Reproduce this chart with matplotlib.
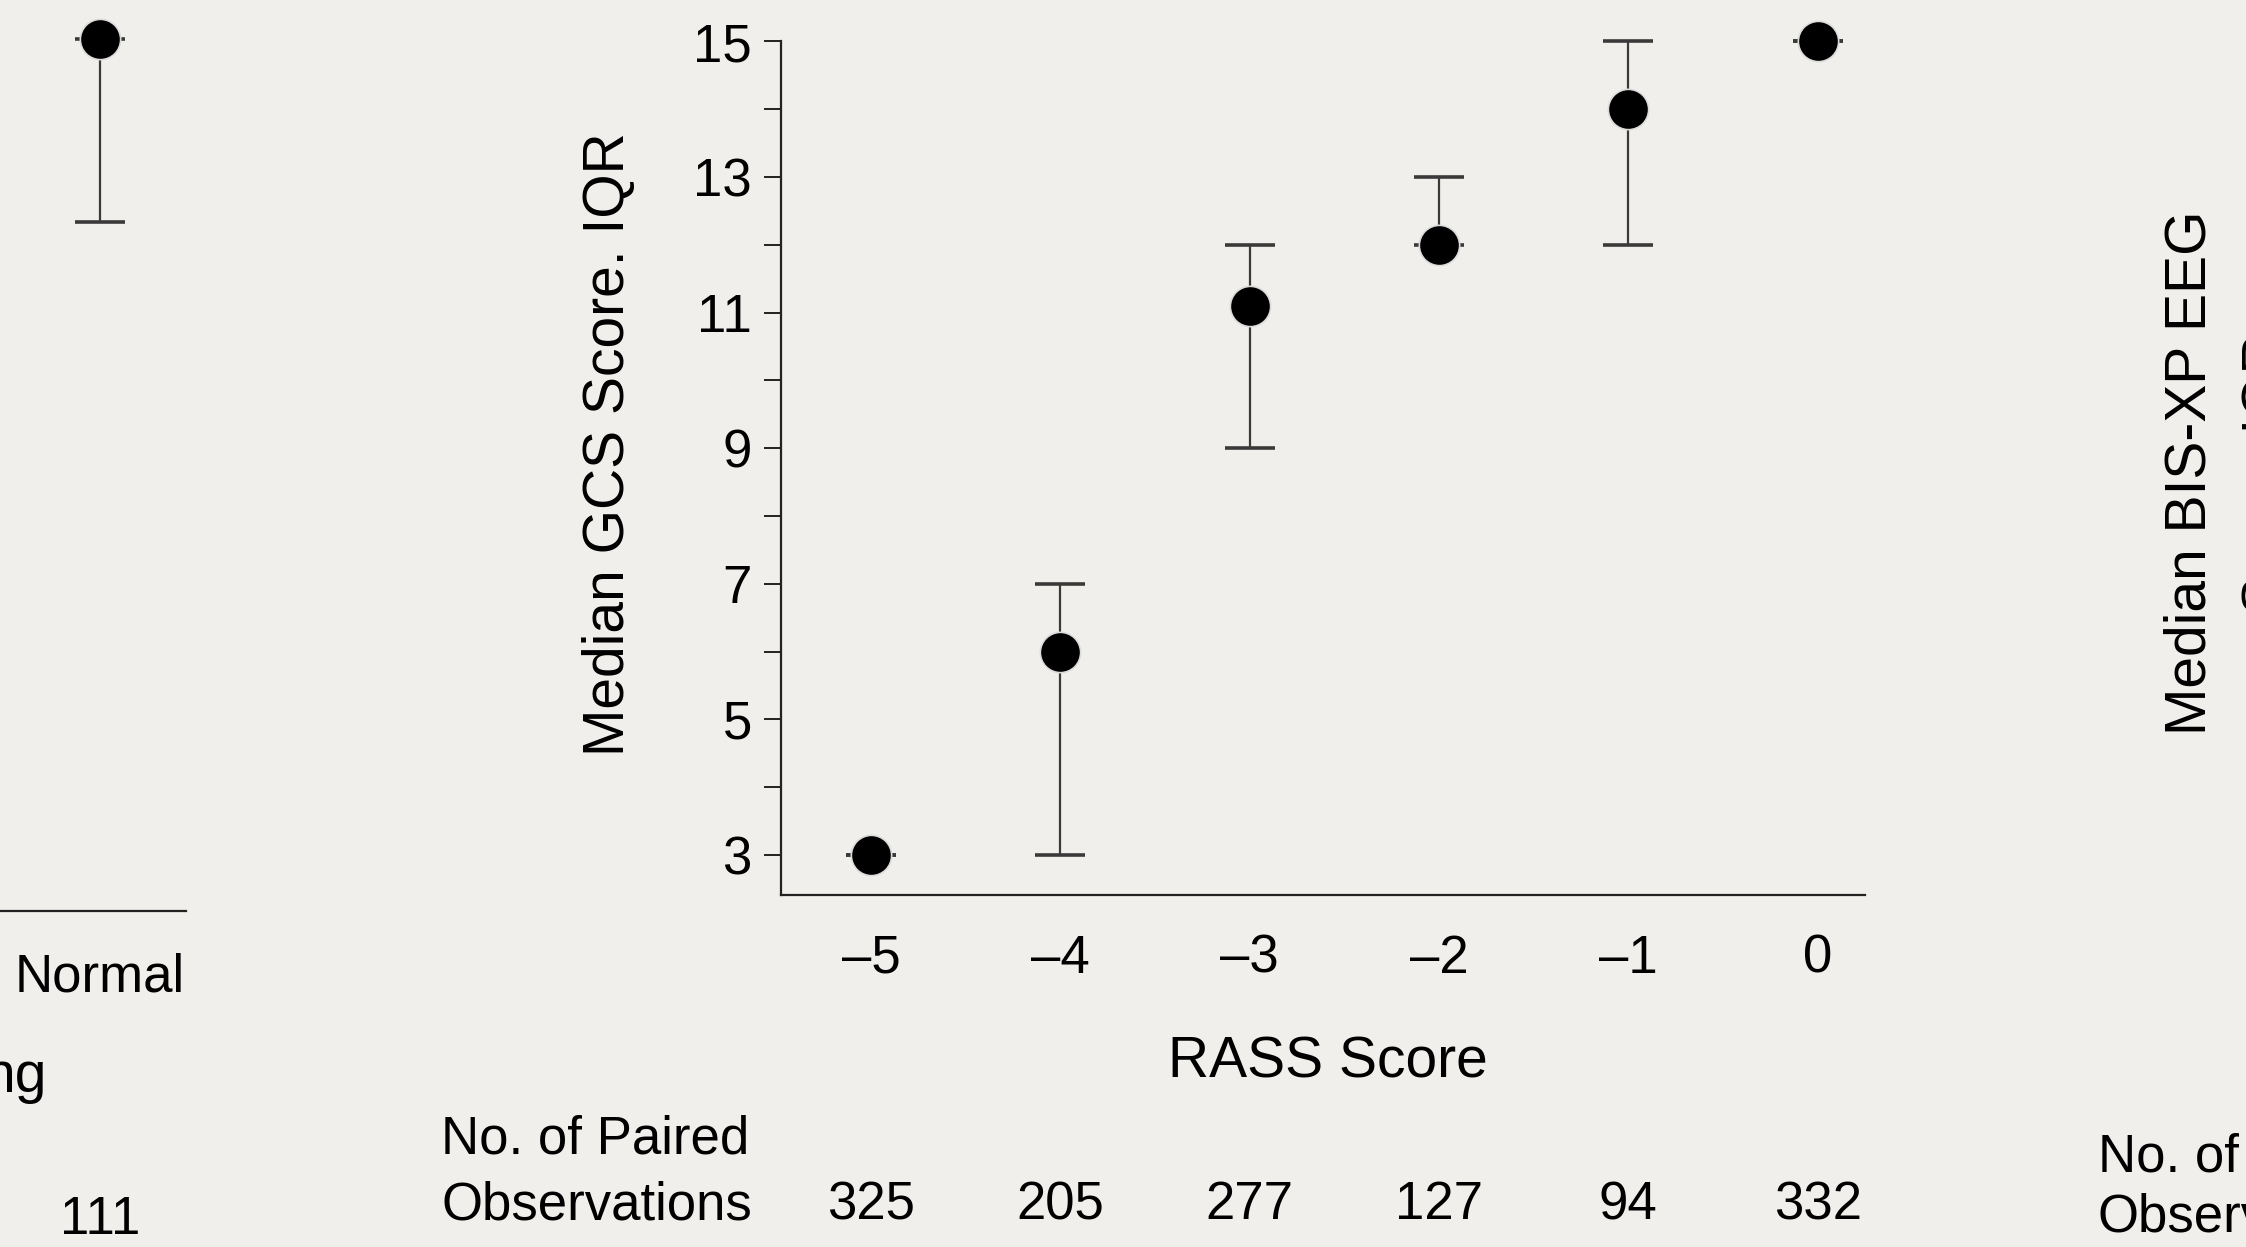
import numpy as np
import matplotlib.pyplot as plt
from matplotlib.ticker import MultipleLocator
import matplotlib.transforms as mtrans

#       <--- NOTE: DATA --->
#------------------------------------------------------------------------------
# middle panel: GCS score by RASS score
rass = [-5, -4, -3, -2, -1, 0]
rass_labels = ["\u20135", "\u20134", "\u20133", "\u20132", "\u20131", "0"]
gcs_median = [3, 6, 11.1, 12, 14, 15]
gcs_q1 = [3, 3, 9, 12, 12, 15]
gcs_q3 = [3, 7, 12, 13, 15, 15]
n_paired = [325, 205, 277, 127, 94, 332]

# left panel fragment (only the last category is in view)
left_cat = [0]
left_labels = ["Normal"]
left_median = [15]
left_q1 = [12.3]
left_q3 = [15]
left_n = [111]

BG = "#f1efeb"
FONT = ["Liberation Sans", "DejaVu Sans"]
plt.rcParams["font.family"] = FONT

W, H = 2246, 1247
fig = plt.figure(figsize=(W / 100, H / 100), dpi=100, facecolor=BG)


# pixel helpers (top-left origin, like the picture)
def fx(px):
    return px / W


def fy(py):
    return 1 - py / H


def draw_points(ax, x, med, lo, hi):
    med = np.array(med)
    err = [med - np.array(lo), np.array(hi) - med]
    eb = ax.errorbar(x, med, yerr=err, fmt="none", ecolor="#3a3a3a",
                     elinewidth=1.6, capsize=18, capthick=2.6, zorder=2)
    for art in eb.lines[1] + eb.lines[2]:
        art.set_clip_on(False)
    ax.plot(x, med, "o", color="black", ms=29, mec="#dcdcdc", mew=1.2,
            zorder=3, clip_on=False)


#       <--- NOTE: MIDDLE PANEL --->
#------------------------------------------------------------------------------
ax = fig.add_axes([fx(781), fy(895), fx(1865) - fx(781), fy(41.5) - fy(895)])
ax.set_facecolor("none")
draw_points(ax, rass, gcs_median, gcs_q1, gcs_q3)

ax.set_xlim(-5.475, 0.25)
ax.set_ylim(2.41, 15)
for s in ["top", "right"]:
    ax.spines[s].set_visible(False)
for s in ["left", "bottom"]:
    ax.spines[s].set_linewidth(1.6)
    ax.spines[s].set_color("#222222")

ax.set_xticks(rass)
ax.set_xticklabels(rass_labels)
ax.set_yticks(range(3, 16, 2))
ax.yaxis.set_minor_locator(MultipleLocator(1))
ax.tick_params(axis="x", length=0, pad=28, labelsize=38)
ax.tick_params(axis="y", which="both", direction="out", length=12,
               width=1.4, color="#222222", pad=9, labelsize=38)

ax.text(fx(609), fy(444), "Median GCS Score. IQR", rotation=90,
        ha="center", va="center", fontsize=41, transform=fig.transFigure)
fig.text(fx(1328), fy(1062), "RASS Score", ha="center", va="center",
         fontsize=41)

fig.text(fx(441), fy(1140), "No. of Paired", ha="left", va="center",
         fontsize=38)
fig.text(fx(441), fy(1205), "Observations", ha="left", va="center",
         fontsize=38)
tr = mtrans.blended_transform_factory(ax.transData, fig.transFigure)
for x, n in zip(rass, n_paired):
    ax.text(x, fy(1205), str(n), ha="center", va="center", fontsize=38,
            transform=tr, clip_on=False)

#       <--- NOTE: LEFT PANEL (cut off) --->
#------------------------------------------------------------------------------
axl = fig.add_axes([fx(-700), fy(911), fx(186) - fx(-700), fy(39) - fy(911)])
axl.set_facecolor("none")
draw_points(axl, left_cat, left_median, left_q1, left_q3)
axl.set_xlim(-(800 / 189), 86 / 189)
axl.set_ylim(15 - 872 / 67.8, 15)
for s in ["top", "right", "left"]:
    axl.spines[s].set_visible(False)
axl.spines["bottom"].set_linewidth(1.6)
axl.spines["bottom"].set_color("#222222")
axl.set_yticks([])
axl.set_xticks(left_cat)
axl.set_xticklabels(left_labels)
axl.tick_params(axis="x", length=0, pad=30, labelsize=38)

fig.text(fx(47), fy(1077), "ng", ha="right", va="center", fontsize=41)
trl = mtrans.blended_transform_factory(axl.transData, fig.transFigure)
for x, n in zip(left_cat, left_n):
    axl.text(x, fy(1220), str(n), ha="center", va="center", fontsize=38,
             transform=trl, clip_on=False)

#       <--- NOTE: RIGHT PANEL (cut off) --->
#------------------------------------------------------------------------------
fig.text(fx(2190), fy(473), "Median BIS-XP EEG", rotation=90, ha="center",
         va="center", fontsize=41)
fig.text(fx(2268), fy(473), "Score, IQR", rotation=90, ha="center",
         va="center", fontsize=41)
fig.text(fx(2098), fy(1157), "No. of Paired", ha="left", va="center",
         fontsize=38)
fig.text(fx(2098), fy(1217), "Observations", ha="left", va="center",
         fontsize=38)

fig.savefig("out.png", dpi=100, facecolor=BG)
